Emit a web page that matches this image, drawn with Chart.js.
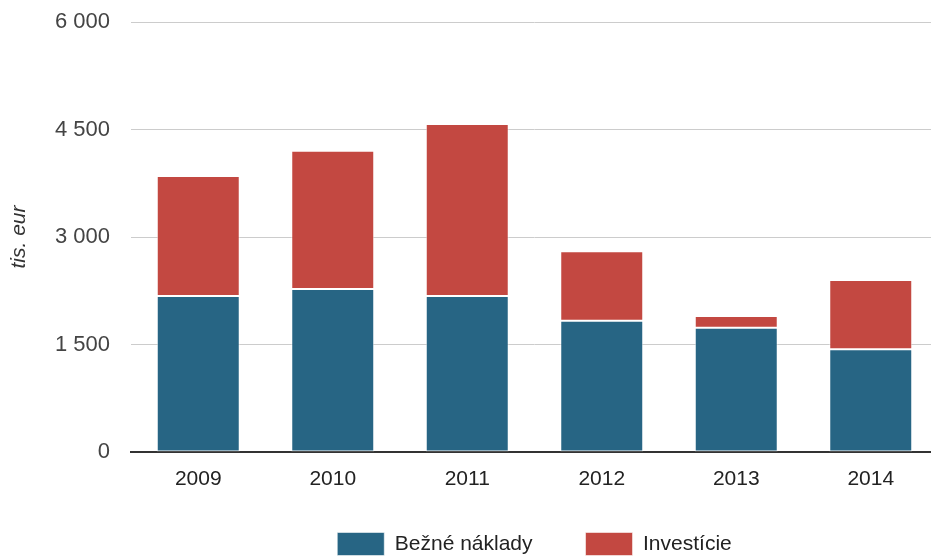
<!DOCTYPE html>
<html>
<head>
<meta charset="utf-8">
<script src="https://cdn.jsdelivr.net/npm/chart.js@4"></script>
<style>
  html, body { margin: 0; padding: 0; background: #fff; overflow: hidden; }
  #wrap { width: 940px; height: 559px; position: relative; }
</style>
</head>
<body>
<div id="wrap"><canvas id="chart"></canvas></div>
<script>
// roky a hodnoty (tis. eur)
const years = ['2009', '2010', '2011', '2012', '2013', '2014'];
const bezneNaklady = [2177, 2274, 2177, 1832, 1735, 1433];
const investicie = [1674, 1930, 2400, 968, 163, 967];
const yTicks = [0, 1500, 3000, 4500, 6000];

const fmt = v => String(v).replace(/\B(?=(\d{3})+(?!\d))/g, ' ');
const FONT = "'Liberation Sans', Arial, sans-serif";

// legenda: velke medzery medzi polozkami, ale posunuta hore (stred ~544)
const legendShift = {
  id: 'legendShift',
  afterLayout(chart) {
    const lg = chart.legend;
    const pad = lg.options.labels.padding;
    const h = 23 + pad + 10;
    lg.top = 544 - 11.5 - pad;
    lg.height = h;
    lg.bottom = lg.top + h;
  }
};

const ctx = document.getElementById('chart').getContext('2d');
new Chart(ctx, {
  type: 'bar',
  data: {
    labels: years,
    datasets: [
      { label: 'Bežné náklady', data: bezneNaklady, backgroundColor: '#276584',
        borderColor: 'rgba(255,255,255,0.55)', borderWidth: 1, borderSkipped: false },
      { label: 'Investície', data: investicie, backgroundColor: '#c34841',
        borderColor: 'rgba(255,255,255,0.55)', borderWidth: 1, borderSkipped: false }
    ]
  },
  plugins: [legendShift],
  options: {
    responsive: true,
    maintainAspectRatio: false,
    animation: false,
    layout: { padding: { top: 22, right: 2, bottom: 0, left: 0 } },
    categoryPercentage: 0.617,
    barPercentage: 1,
    plugins: {
      tooltip: { enabled: false },
      legend: {
        position: 'bottom',
        fullSize: false,
        maxHeight: 40,
        labels: {
          boxWidth: 47, boxHeight: 23, padding: 53,
          color: '#222',
          font: { family: FONT, size: 21 }
        }
      }
    },
    scales: {
      x: {
        stacked: true,
        afterFit: s => { s.height = 67; },
        grid: { display: false },
        border: { display: true, color: '#333', width: 2 },
        ticks: { color: '#222', padding: 7, font: { family: FONT, size: 21 } }
      },
      y: {
        stacked: true,
        min: 0, max: 6000,
        afterFit: s => { s.width = 131; s.paddingTop = 0; s.paddingBottom = 0; },
        afterBuildTicks: s => { s.ticks = yTicks.map(v => ({ value: v })); },
        grid: { color: '#cccccc', lineWidth: 1, drawTicks: false },
        border: { display: false },
        ticks: { color: '#444', padding: 21, font: { family: FONT, size: 22 }, callback: v => fmt(v) },
        title: {
          display: true, text: 'tis. eur', color: '#333',
          padding: { top: 7, bottom: 0 },
          font: { family: FONT, size: 21, style: 'italic' }
        }
      }
    }
  }
});
</script>
</body>
</html>
